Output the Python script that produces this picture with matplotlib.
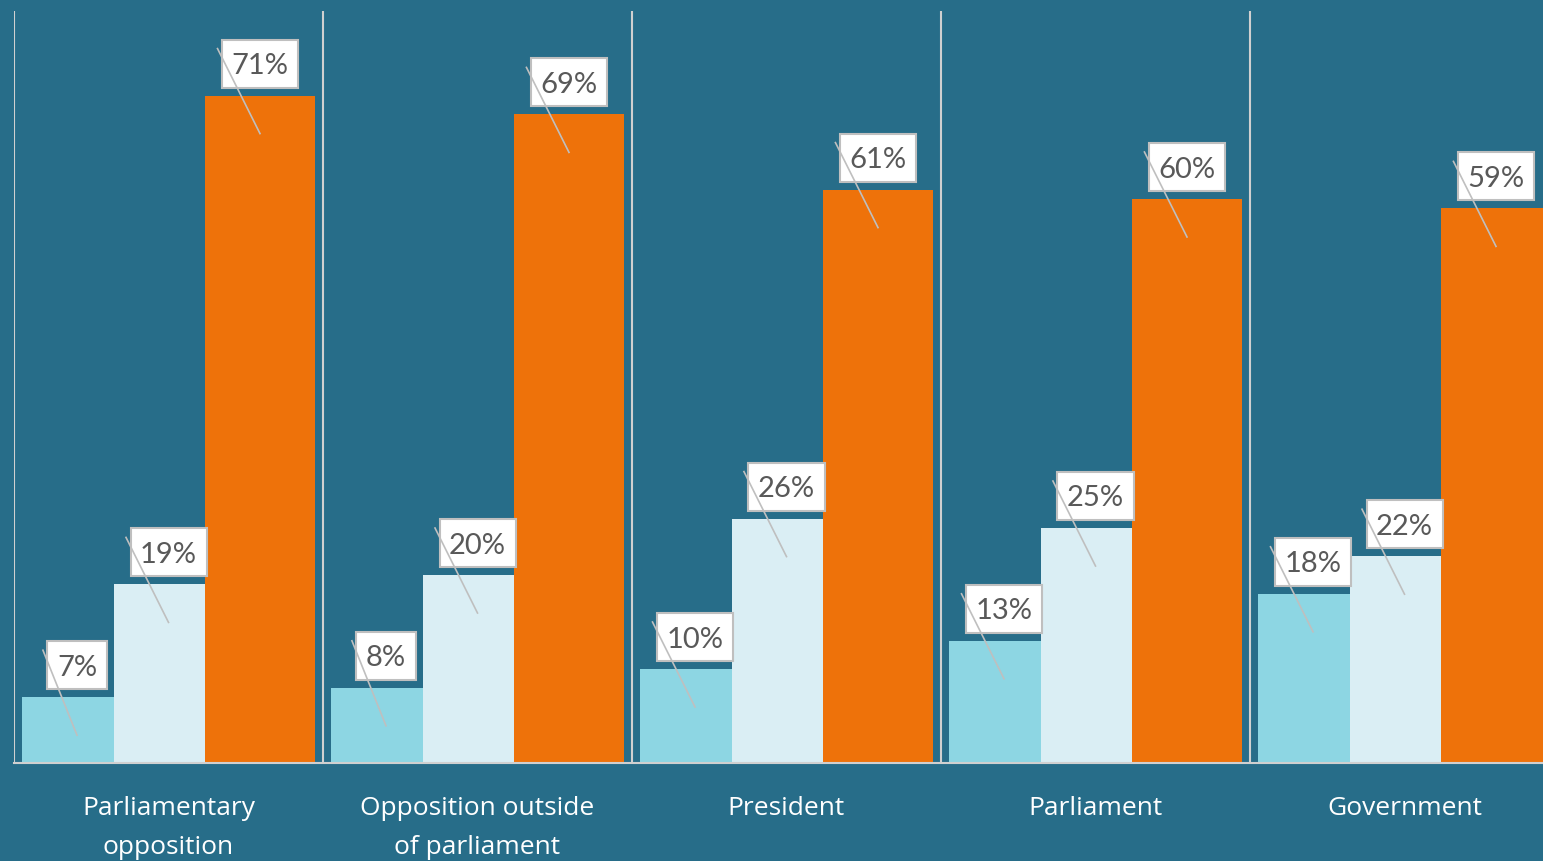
import matplotlib
matplotlib.use("Agg")
from matplotlib import pyplot as plt
from matplotlib.lines import Line2D
from matplotlib.patches import Rectangle
from matplotlib.transforms import IdentityTransform
import numpy as np

categories = ["Parliamentary\nopposition", "Opposition outside\nof parliament",
              "President", "Parliament", "Government"]
series_1 = [7, 8, 10, 13, 18]
series_2 = [19, 20, 26, 25, 22]
series_3 = [71, 69, 61, 60, 59]

bg = "#276d89"
colors = ["#8dd6e3", "#daeef4", "#ee720a"]
line_grey = "#d0d0d0"

plt.rcParams['font.family'] = ['Lato', 'DejaVu Sans']

W, H, DPI = 1543, 861, 100
fig = plt.figure(figsize=(W / DPI, H / DPI), dpi=DPI, facecolor=bg)
# axes runs slightly past the right edge, so the last orange bar is cut like in the source
ax = fig.add_axes([14 / W, 98 / H, 1545 / W, 752 / H])
ax.set_facecolor(bg)

x = np.arange(len(categories)) + 0.5
group_px = 309.0
offset = 91.5 / group_px
width = 110 / group_px

all_bars = []
for k, vals in enumerate([series_1, series_2, series_3]):
    bars = ax.bar(x + (k - 1) * offset, vals, width=width, color=colors[k],
                  zorder=2 + k, linewidth=0)
    all_bars.append((bars, vals))

ax.set_xlim(0, len(categories))
ax.set_ylim(0, 80)

# group separators
for i in range(len(categories)):
    ax.axvline(i, color=line_grey, lw=1.5, zorder=1)

for side in ["top", "right", "left"]:
    ax.spines[side].set_visible(False)
ax.spines["bottom"].set_color(line_grey)
ax.spines["bottom"].set_linewidth(1.5)
ax.spines["bottom"].set_zorder(6)
ax.set_yticks([])
ax.set_xticks(x)
ax.set_xticklabels(categories, color="white", fontsize=19, linespacing=1.7,
                   family=["Open Sans", "DejaVu Sans"])
ax.tick_params(axis="x", length=0, pad=24)

# value labels in white boxes (box: 8 px above bar, 48 px tall)
label_fs = 21
gap, box_h, cap_half = 8, 48, 10.5
texts = []
for bars, vals in all_bars:
    for b, v in zip(bars, vals):
        t = ax.annotate(f"{v}%", xy=(b.get_x() + b.get_width() / 2, v),
                        xytext=(0, (gap + box_h / 2 - cap_half) * 72 / DPI),
                        textcoords="offset points", ha="center", va="baseline",
                        fontsize=label_fs, color="#595959", zorder=12)
        texts.append((t, b.get_x() + b.get_width() / 2, v))

fig.canvas.draw()
renderer = fig.canvas.get_renderer()
for t, cx_d, v in texts:
    tb = t.get_window_extent(renderer)
    cx, ytop = ax.transData.transform((cx_d, v))
    bw = tb.width + 19
    x0, y0 = cx - bw / 2, ytop + gap
    ax.add_patch(Rectangle((x0, y0), bw, box_h, transform=IdentityTransform(),
                           fc="white", ec="#bfbfbf", lw=1.5, zorder=11, clip_on=False))
    ax.add_line(Line2D([x0 - 4.5, cx], [y0 + box_h - 9, y0 - 46],
                       transform=IdentityTransform(), color="#bfbfbf", lw=1.2,
                       zorder=20, clip_on=False))

fig.savefig("out.png", dpi=DPI, facecolor=bg)
